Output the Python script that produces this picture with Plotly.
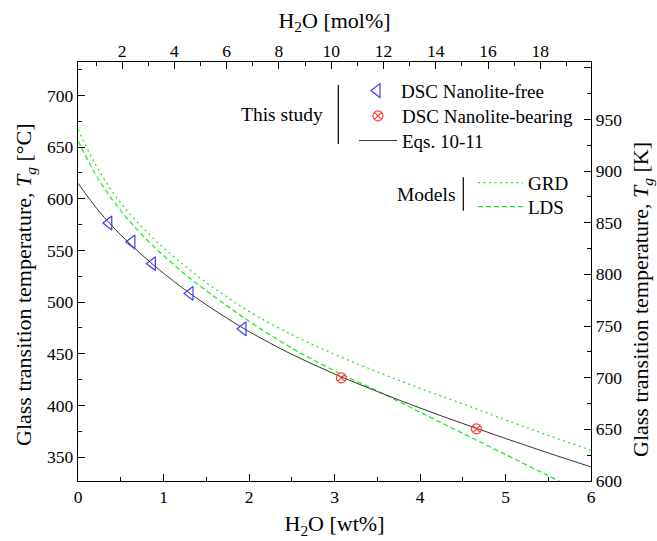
import plotly.graph_objects as go

# ---------------- data ----------------
free_wt = [0.36, 0.63, 0.87, 1.31, 1.93]
free_T = [576.6, 558.2, 537.2, 508.4, 474.2]
bear_wt = [3.08, 4.66]
bear_T = [426.7, 377.3]

curve_wt = [0, 0.25, 0.5, 0.75, 1.0, 1.25, 1.5, 1.75, 2.0, 2.5, 3.0, 3.5, 4.0, 4.5, 5.0, 5.5, 6.0]
eq_T = [615, 587.5, 565, 545.5, 528, 512, 497.5, 484, 471.5, 449.5, 430.5, 413.5, 397.5, 382.5, 368, 354, 340.5]
grd_T = [667, 626.5, 596, 572.5, 552.5, 535, 519, 504.5, 491, 468.5, 449.5, 432.5, 416.5, 401.5, 386, 371, 356.5]
lds_wt = [0, 0.25, 0.5, 0.75, 1.0, 1.25, 1.5, 1.75, 2.0, 2.5, 3.0, 3.5, 4.0, 4.5, 5.0, 5.5, 5.63]
lds_T = [656, 617.5, 588.5, 565, 545, 527, 511, 496, 481.5, 455.5, 433.5, 414, 393.5, 373, 352.5, 332, 326.8]

x_ticks = [0, 1, 2, 3, 4, 5, 6]
mol_ticks = [2, 4, 6, 8, 10, 12, 14, 16, 18]
c_ticks = [350, 400, 450, 500, 550, 600, 650, 700]
k_ticks = [600, 650, 700, 750, 800, 850, 900, 950, 1000]
k_labels = ["600", "650", "700", "750", "800", "850", "900", "950", ""]

# ---------------- layout helpers ----------------
W, H = 657, 541
L, R, T, B = 78, 591, 62, 481
def px(x):
    return (x - L) / (R - L)
def py(y):
    return (B - y) / (B - T)

FONT = "Liberation Serif"
BLUE = "rgb(60,60,255)"
RED = "rgb(255,60,60)"
GREEN = "rgb(30,240,30)"

fig = go.Figure()

fig.add_trace(go.Scatter(x=curve_wt, y=grd_T, mode="lines", name="GRD",
                         line=dict(color=GREEN, width=1.3, dash="2px,3.5px", shape="spline"),
                         legend="legend4"))
fig.add_trace(go.Scatter(x=lds_wt, y=lds_T, mode="lines", name="LDS",
                         line=dict(color=GREEN, width=1.3, dash="5px,3px", shape="spline"),
                         legend="legend5"))
fig.add_trace(go.Scatter(x=curve_wt, y=eq_T, mode="lines", name="Eqs. 10-11",
                         line=dict(color="#333333", width=1, shape="spline"),
                         legend="legend3"))
fig.add_trace(go.Scatter(x=free_wt, y=free_T, mode="markers", name="DSC Nanolite-free",
                         marker=dict(symbol="triangle-left-open", size=12, color=BLUE,
                                     line=dict(width=1.2)),
                         legend="legend"))
fig.add_trace(go.Scatter(x=bear_wt, y=bear_T, mode="markers", name="DSC Nanolite-bearing",
                         marker=dict(symbol="circle-x-open", size=10, color=RED,
                                     line=dict(width=1.2)),
                         legend="legend2"))
# empty trace so that the secondary (top / right) axes get drawn
fig.add_trace(go.Scatter(x=[], y=[], xaxis="x2", yaxis="y2", showlegend=False,
                         hoverinfo="skip"))

axis_common = dict(showgrid=False, zeroline=False, showline=True, linecolor="black",
                   linewidth=1.3, ticks="inside", ticklen=7, tickwidth=1.2, tickcolor="black",
                   tickfont=dict(family=FONT, size=17.5, color="black"))

fig.update_layout(
    width=W, height=H, showlegend=True,
    margin=dict(l=L, r=W - R, t=T, b=H - B, autoexpand=False),
    paper_bgcolor="white", plot_bgcolor="white",
    font=dict(family=FONT, color="black"),
    xaxis=dict(range=[0, 6], tickvals=x_ticks,
               minor=dict(dtick=0.5, ticks="inside", ticklen=4, tickcolor="black"),
               title=dict(text="H<sub>2</sub>O [wt%]", font=dict(size=22), standoff=9),
               **axis_common),
    xaxis2=dict(range=[0.31, 19.94], overlaying="x", side="top", anchor="y",
                tickvals=mol_ticks, ticklabelstandoff=-3,
                minor=dict(dtick=1, ticks="inside", ticklen=4, tickcolor="black"),
                title=dict(text="H<sub>2</sub>O [mol%]", font=dict(size=22), standoff=6),
                **axis_common),
    yaxis=dict(range=[326.85, 732.4], tickvals=c_ticks,
               minor=dict(dtick=25, ticks="inside", ticklen=4, tickcolor="black"),
               **axis_common),
    yaxis2=dict(range=[600, 1005.55], overlaying="y", side="right", anchor="x",
                tickvals=k_ticks, ticktext=k_labels,
                minor=dict(dtick=25, ticks="inside", ticklen=4, tickcolor="black"),
                **axis_common),
)

# vertical axis titles as rotated annotations
fig.add_annotation(x=px(25), y=py(285), xref="paper", yref="paper",
                   text="Glass transition temperature, <i>T<sub>g</sub></i> [°C]",
                   textangle=-90, showarrow=False, xanchor="center", yanchor="middle",
                   font=dict(family=FONT, size=22, color="black"))
fig.add_annotation(x=px(642), y=py(300), xref="paper", yref="paper",
                   text="Glass transition temperature, <i>T<sub>g</sub></i> [K]",
                   textangle=-90, showarrow=False, xanchor="center", yanchor="middle",
                   font=dict(family=FONT, size=22, color="black"))

leg_common = dict(font=dict(family=FONT, size=19, color="black"), bgcolor="rgba(0,0,0,0)",
                  xanchor="left", yanchor="middle", tracegroupgap=0)
fig.update_layout(
    legend=dict(x=px(353), y=py(90.7), itemwidth=38, **leg_common),
    legend2=dict(x=px(354), y=py(116), itemwidth=38, **leg_common),
    legend3=dict(x=px(354), y=py(140.7), itemwidth=38, **leg_common),
    legend4=dict(x=px(473), y=py(182.7), itemwidth=45, **leg_common),
    legend5=dict(x=px(473), y=py(206.7), itemwidth=45, **leg_common),
)

# group labels and separators
fig.add_annotation(x=px(325), y=py(115), xref="paper", yref="paper", text="This study",
                   showarrow=False, xanchor="right", yanchor="middle",
                   font=dict(family=FONT, size=19.5, color="black"))
fig.add_annotation(x=px(458), y=py(194), xref="paper", yref="paper", text="Models",
                   showarrow=False, xanchor="right", yanchor="middle",
                   font=dict(family=FONT, size=19.5, color="black"))
fig.add_shape(type="line", xref="paper", yref="paper", x0=px(338.3), x1=px(338.3),
              y0=py(85), y1=py(144), line=dict(color="black", width=1.2))
fig.add_shape(type="line", xref="paper", yref="paper", x0=px(463.3), x1=px(463.3),
              y0=py(177.3), y1=py(210.7), line=dict(color="black", width=1.2))

fig.write_html("out.html")
